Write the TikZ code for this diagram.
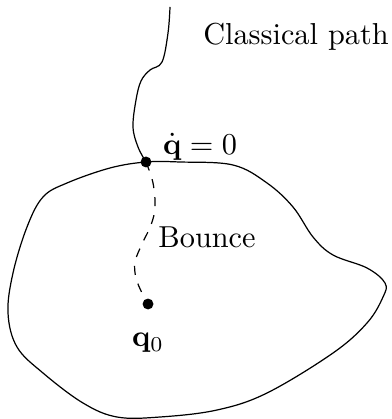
\documentclass[tikz,border=0pt]{standalone}
\usepackage{amsmath}
\begin{document}
\begin{tikzpicture}[x=0.33pt,y=-0.33pt,
  dot/.style={circle,fill,inner sep=0pt,minimum size=3.6pt}]
\useasboundingbox (0,0) rectangle (391,419);
\node[dot] (hit) at (146,162) {};
\node[dot] (start) at (148,304) {};
\coordinate (far) at (170,7);
% the region
\draw plot[smooth cycle,tension=0.6] coordinates {
  (146,162) (180,162) (233,165) (267,183) (293,207) (313,237) (333,255)
  (367,268) (385,283) (383,297) (367,323) (333,353) (267,393) (217,410)
  (160,417) (117,417) (83,403) (43,373) (17,347) (8,313) (13,273)
  (27,227) (43,197) (67,183) (110,168)};
\draw plot[smooth,tension=0.6] coordinates {
  (far) (168,33) (162,62) (150,70) (141,81) (136,100) (133,127) (138,147) (hit)};
\draw[dashed] plot[smooth,tension=0.6] coordinates {
  (hit) (153,183) (155,207) (151,225) (142,244) (135,262) (136,278) (142,293) (start)};
\node at (296,37) {Classical path};
\node at (200,147) {$\dot{\mathbf{q}}=0$};
\node at (207,237) {Bounce};
\node at (148,343) {$\mathbf{q}_0$};
\end{tikzpicture}
\end{document}
